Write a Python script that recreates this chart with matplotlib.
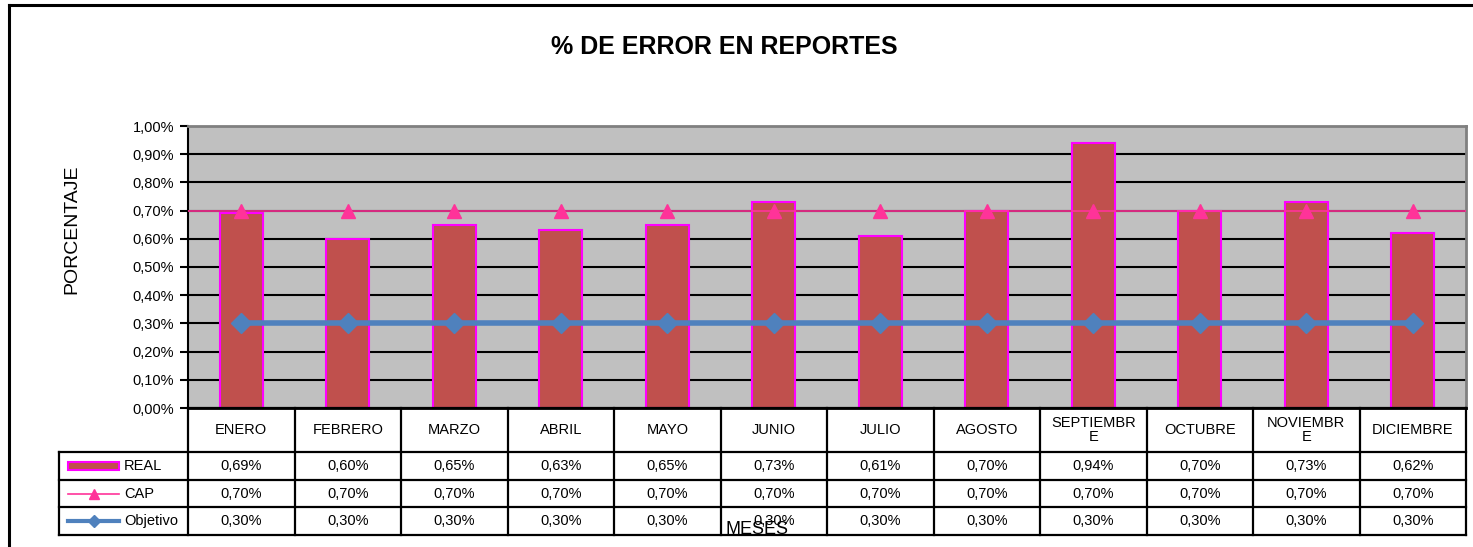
import matplotlib.pyplot as plt
from matplotlib.lines import Line2D
from matplotlib.patches import Rectangle
import numpy as np

plt.rcParams['font.family'] = ['Liberation Sans', 'DejaVu Sans']

meses = ["ENERO", "FEBRERO", "MARZO", "ABRIL", "MAYO", "JUNIO", "JULIO",
         "AGOSTO", "SEPTIEMBR\nE", "OCTUBRE", "NOVIEMBR\nE", "DICIEMBRE"]
real = [0.69, 0.60, 0.65, 0.63, 0.65, 0.73, 0.61, 0.70, 0.94, 0.70, 0.73, 0.62]
cap = [0.70] * 12
objetivo = [0.30] * 12
yticks = [0.0, 0.1, 0.2, 0.3, 0.4, 0.5, 0.6, 0.7, 0.8, 0.9, 1.0]

BAR_COLOR = "#C0504D"
BAR_EDGE = "#FF00FF"
CAP_COLOR = "#FF3399"
OBJ_COLOR = "#4F81BD"

W, H = 1473, 547
fig = plt.figure(figsize=(W / 100, H / 100), dpi=100)


def fx(px):
    return px / W


def fy(py):
    return 1 - py / H


def pct(v):
    return ("%.2f%%" % v).replace(".", ",")


# outer chart border (top and left)
fig.add_artist(Line2D([fx(9), 1.0], [fy(5), fy(5)], color="black", lw=2.2))
fig.add_artist(Line2D([fx(9), fx(9)], [fy(5), 0.0], color="black", lw=2.2))

x0, x1 = 188, 1466
ax = fig.add_axes([fx(x0), fy(408), fx(x1 - x0), fy(126) - fy(408)])
x = np.arange(len(meses))
ax.set_facecolor("#C0C0C0")
ax.set_xlim(-0.5, len(meses) - 0.5)
ax.set_ylim(0, 1.0)
ax.set_yticks(yticks)
ax.yaxis.set_major_formatter(plt.FuncFormatter(lambda v, p: pct(v)))
ax.tick_params(axis="y", length=6, width=1.5, labelsize=10.5, pad=4)
ax.set_xticks([])
for v in yticks[1:-1]:
    ax.axhline(v, color="black", lw=1.5, zorder=1)
for s in ["top", "right"]:
    ax.spines[s].set_color("#808080")
    ax.spines[s].set_linewidth(2)
ax.spines["left"].set_linewidth(1.5)
ax.spines["bottom"].set_linewidth(2)

ax.bar(x, real, width=0.4, color=BAR_COLOR, edgecolor=BAR_EDGE, linewidth=1.5, zorder=2)
ax.plot([-0.5, len(meses) - 0.5], [cap[0], cap[-1]], color=CAP_COLOR, lw=1.2, zorder=3)
ax.plot(x, cap, ls="none", marker="^", ms=10, color=CAP_COLOR, zorder=4)
ax.plot(x, objetivo, color=OBJ_COLOR, lw=4, marker="D", ms=10, zorder=4)

fig.text(fx(724), fy(47), "% DE ERROR EN REPORTES", ha="center", va="center",
         fontsize=18, fontweight="bold")
fig.text(fx(72), fy(229), "PORCENTAJE", rotation=90, ha="center", va="center", fontsize=14)

# data table below the chart
tab = fig.add_axes([fx(x0), fy(535), fx(x1 - x0), fy(408) - fy(535)])
tab.set_xlim(-0.5, len(meses) - 0.5)
tab.set_ylim(535, 408)
tab.axis("off")
unit = (x1 - x0) / len(meses)
xl = -0.5 - (x0 - 59) / unit
rows = [408, 452, 480, 507, 535]
lkw = dict(color="black", lw=1.6, clip_on=False)
tab.plot([-0.5, 11.5], [rows[0], rows[0]], **lkw)
for r in rows[1:]:
    tab.plot([xl, 11.5], [r, r], **lkw)
tab.plot([xl, xl], [rows[1], rows[-1]], **lkw)
for b in np.arange(-0.5, 12, 1.0):
    tab.plot([b, b], [rows[0], rows[-1]], **lkw)
for i, m in enumerate(meses):
    tab.text(i, (rows[0] + rows[1]) / 2, m, ha="center", va="center", fontsize=10.5, linespacing=0.95)
series = [("REAL", real), ("CAP", cap), ("Objetivo", objetivo)]
for k, (name, vals) in enumerate(series):
    yc = (rows[k + 1] + rows[k + 2]) / 2
    for i, v in enumerate(vals):
        tab.text(i, yc, pct(v), ha="center", va="center", fontsize=10.5)
    tab.text(xl + 65 / unit, yc, name, ha="left", va="center", fontsize=10.5)
ka, kb = xl + 9 / unit, xl + 60 / unit
y_real = (rows[1] + rows[2]) / 2
tab.add_patch(Rectangle((ka, y_real - 4), kb - ka, 8, facecolor=BAR_COLOR,
                        edgecolor=BAR_EDGE, lw=1.5, clip_on=False))
y_cap = (rows[2] + rows[3]) / 2
tab.plot([ka, kb], [y_cap, y_cap], color=CAP_COLOR, lw=1.2, clip_on=False)
tab.plot([(ka + kb) / 2], [y_cap], marker="^", ms=7, color=CAP_COLOR, clip_on=False)
y_obj = (rows[3] + rows[4]) / 2
tab.plot([ka, kb], [y_obj, y_obj], color=OBJ_COLOR, lw=3, clip_on=False)
tab.plot([(ka + kb) / 2], [y_obj], marker="D", ms=6, color=OBJ_COLOR, clip_on=False)

# axis title overlaps the table in the original as well
fig.text(fx(757), fy(530), "MESES", ha="center", va="center", fontsize=13)

fig.savefig("out.png", dpi=100)
